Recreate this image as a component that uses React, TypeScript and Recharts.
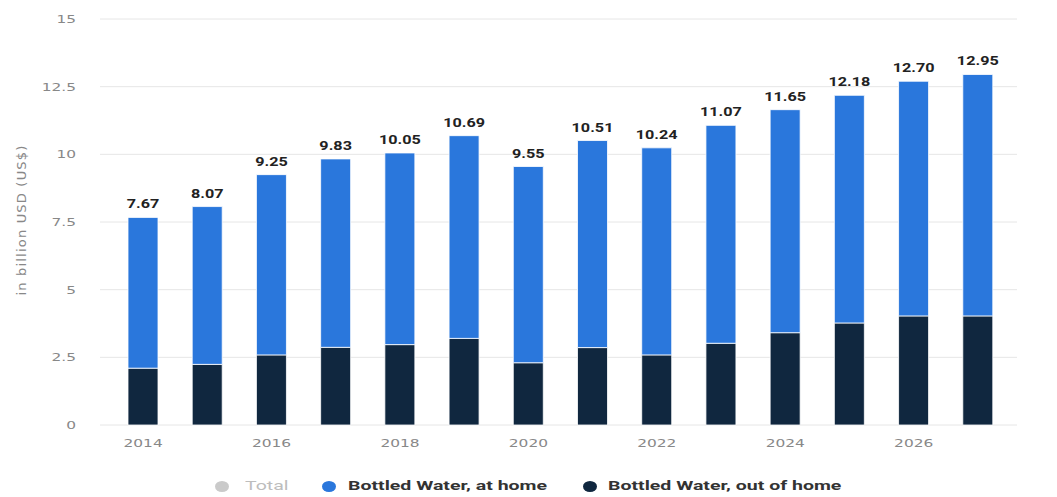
import { Bar, BarChart, CartesianGrid, LabelList, XAxis, YAxis } from "recharts";

const years = ["2014", "2015", "2016", "2017", "2018", "2019", "2020", "2021", "2022", "2023", "2024", "2025", "2026", "2027"];
const outOfHome = [2.1, 2.24, 2.59, 2.87, 2.97, 3.2, 2.3, 2.86, 2.59, 3.02, 3.41, 3.77, 4.03, 4.03];
const atHome = [5.57, 5.83, 6.66, 6.96, 7.08, 7.49, 7.25, 7.65, 7.65, 8.05, 8.24, 8.41, 8.67, 8.92];
const totals = ["7.67", "8.07", "9.25", "9.83", "10.05", "10.69", "9.55", "10.51", "10.24", "11.07", "11.65", "12.18", "12.70", "12.95"];
const yTicks = [0, 2.5, 5, 7.5, 10, 12.5, 15];

const BLUE = "#2a77dc";
const DARK = "#10273f";
const FONT = "Roboto, 'Noto Sans', sans-serif";
const TICK_FONT = "'DejaVu Sans', sans-serif";
// the reference looks stretched sideways, so text is widened to match
const STRETCH = 1.4;

const data = years.map((year, i) => ({
  year,
  outOfHome: outOfHome[i],
  atHome: atHome[i],
  total: totals[i],
}));

const legendItems = [
  { name: "Total", color: "#cacaca", text: "#bdbdbd", dot: 222, label: 245, weight: 400 },
  { name: "Bottled Water, at home", color: BLUE, text: "#333", dot: 329, label: 348, weight: 700 },
  { name: "Bottled Water, out of home", color: DARK, text: "#333", dot: 590, label: 608, weight: 700 },
];

const XTick = ({ x, y, payload }: any) => (
  <text
    transform={`translate(${x},${y}) scale(${STRETCH},1)`}
    textAnchor="middle"
    dy="0.71em"
    fill="#888"
    fontSize={11}
    fontFamily={TICK_FONT}
  >
    {payload.value}
  </text>
);

const YTick = ({ x, y, payload }: any) => (
  <text
    transform={`translate(${x},${y}) scale(${STRETCH},1)`}
    textAnchor="end"
    dy="0.355em"
    fill="#888"
    fontSize={11}
    fontFamily={TICK_FONT}
  >
    {payload.value}
  </text>
);

const TotalLabel = ({ x, y, width, value }: any) => (
  <text
    transform={`translate(${x + width / 2},${y - 9}) scale(1.35,1)`}
    textAnchor="middle"
    fill="#222"
    fontSize={12}
    fontWeight={700}
    fontFamily={FONT}
  >
    {value}
  </text>
);

export default function App() {
  return (
    <div style={{ position: "absolute", left: 0, top: 0, width: 1057, height: 497, background: "#fff", fontFamily: FONT }}>
      <BarChart
        width={1057}
        height={497}
        data={data}
        margin={{ top: 19, right: 40, bottom: 42, left: 0 }}
      >
        <CartesianGrid vertical={false} stroke="#e6e6e6" />
        <XAxis
          dataKey="year"
          interval={1}
          tickLine={false}
          axisLine={false}
          height={30}
          padding={{ left: 11, right: 7 }}
          tick={<XTick />}
          tickMargin={8}
        />
        <YAxis
          width={100}
          domain={[0, 15]}
          ticks={yTicks}
          tickLine={false}
          axisLine={false}
          tick={<YTick />}
          tickMargin={18}
        />
        <Bar dataKey="outOfHome" stackId="a" fill={DARK} barSize={30} stroke="#fff" strokeWidth={0.8} isAnimationActive={false} />
        <Bar dataKey="atHome" stackId="a" fill={BLUE} barSize={30} stroke="#fff" strokeWidth={0.8} isAnimationActive={false}>
          <LabelList dataKey="total" content={<TotalLabel />} />
        </Bar>
      </BarChart>
      <div
        style={{
          position: "absolute",
          left: 21,
          top: 220,
          transform: "translate(-50%, -50%) rotate(-90deg)",
          whiteSpace: "nowrap",
          fontSize: 13,
          letterSpacing: 1.2,
          color: "#888",
          fontFamily: TICK_FONT,
        }}
      >
        in billion USD (US$)
      </div>
      {legendItems.map((item) => (
        <div key={item.name}>
          <span
            style={{
              position: "absolute",
              left: item.dot - 7,
              top: 481,
              width: 14,
              height: 11,
              borderRadius: "50%",
              background: item.color,
            }}
          />
          <span
            style={{
              position: "absolute",
              left: item.label,
              top: 478,
              fontSize: 13,
              fontWeight: item.weight,
              color: item.text,
              whiteSpace: "nowrap",
              transform: "scaleX(1.5)",
              transformOrigin: "left center",
            }}
          >
            {item.name}
          </span>
        </div>
      ))}
    </div>
  );
}
